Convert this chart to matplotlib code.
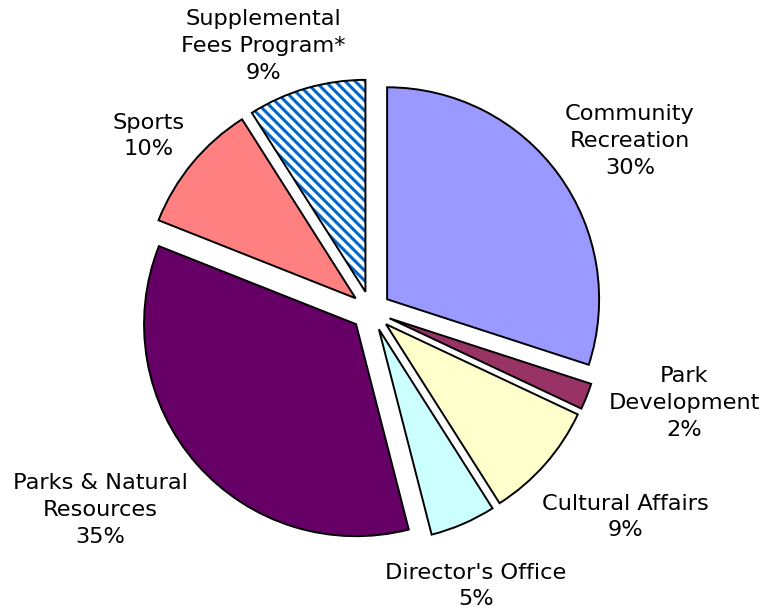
import numpy as np
import matplotlib

matplotlib.use("Agg")
import matplotlib.pyplot as plt
from matplotlib.lines import Line2D

# data, clockwise from 12 o'clock
categories = [
    "Community\nRecreation",
    "Park\nDevelopment",
    "Cultural Affairs",
    "Director's Office",
    "Parks & Natural\nResources",
    "Sports",
    "Supplemental\nFees Program*",
]
shares = [30, 2, 9, 5, 35, 10, 9]
colors = ["#9999FF", "#993366", "#FFFFCC", "#CCFFFF", "#660066", "#FF8080", "none"]

# layout (pixels of the 761x613 picture)
W, H = 761, 613
CX, CY, R = 371, 311, 212
label_px = [(630, 141), (684, 403), (625, 517), (476, 586), (100, 510), (149, 136), (263, 46)]

fig = plt.figure(figsize=(W / 100, H / 100), dpi=100)
ax = fig.add_axes([0, 0, 1, 1])

wedges, _ = ax.pie(
    shares,
    explode=[0.094] * len(shares),
    colors=colors,
    startangle=90,
    counterclock=False,
    radius=1,
    wedgeprops=dict(edgecolor="black", linewidth=1.4),
)
ax.set_xlim(-CX / R, (W - CX) / R)
ax.set_ylim(-(H - CY) / R, CY / R)
ax.set_aspect("equal")
ax.axis("off")

# blue diagonal stripes for the supplemental fees wedge
hatched = wedges[-1]
hatched.set_zorder(3)
step = 10 / R
for c in np.arange(-3, 3, step):
    ln = Line2D([c - 2, c + 2], [2, -2], color="#0066CC", linewidth=2.2, zorder=2)
    ln.set_clip_path(hatched)
    ax.add_line(ln)

for name, share, (px, py) in zip(categories, shares, label_px):
    fig.text(px / W, 1 - py / H, f"{name}\n{share}%", ha="center", va="center",
             fontsize=16.2, linespacing=1.42, family="DejaVu Sans")

fig.savefig("out.png", dpi=100, facecolor="white")
